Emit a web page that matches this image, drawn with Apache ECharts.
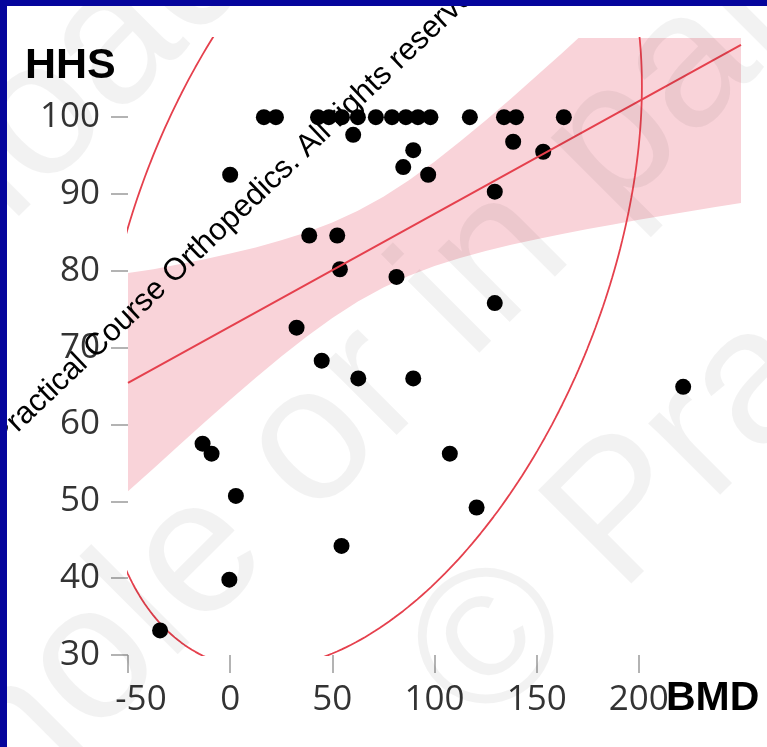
<!DOCTYPE html>
<html>
<head>
<meta charset="utf-8">
<script src="https://cdn.jsdelivr.net/npm/echarts@6/dist/echarts.min.js"></script>
<style>
  html, body { margin: 0; padding: 0; background: #fff; }
  #chart { width: 767px; height: 747px; }
</style>
</head>
<body>
<div id="chart"></div>
<script>
// Change in bone mineral density (BMD) against Harris Hip Score (HHS), one point per patient
const bmd = [
  16.5, 22.4, 43.0, 48.3, 54.7, 62.5, 71.3, 79.2, 86.0, 91.9, 98.0, 117.3, 134.0, 139.9, 163.3,
  0.0, 60.2, 89.6, 84.7, 96.9, 138.5, 153.2, 129.5,
  38.7, 52.4, 53.7, 81.4, 32.5, 44.8, 62.7, 89.6, 129.5, 221.7,
  107.5, 120.6, -13.5, -9.1, 2.8, -0.4, -34.3, 54.5
];
const hhs = [
  100, 100, 100, 100, 100, 100, 100, 100, 100, 100, 100, 100, 100, 100, 100,
  92.5, 97.7, 95.7, 93.5, 92.5, 96.8, 95.5, 90.3,
  84.6, 84.6, 80.2, 79.2, 72.6, 68.3, 66.0, 66.0, 75.8, 64.9,
  56.2, 49.2, 57.5, 56.2, 50.7, 39.8, 33.2, 44.2
];
const xTicks = [-50, 0, 50, 100, 150, 200];
const yTicks = [30, 40, 50, 60, 70, 80, 90, 100];
const xRange = [-50, 250];
const yRange = [30, 110.3];

// Linear fit (end points) and its 95% confidence band
const fitX = [-50, 250];
const fitY = [65.4, 109.4];
const bandX = [
  -50, -37.5, -25, -12.5, 0, 12.5, 25, 37.5, 50, 62.5, 75, 87.5, 100,
  112.5, 125, 137.5, 150, 162.5, 175, 187.5, 200, 212.5, 225, 237.5, 250
];
const bandUpper = [
  79.7, 80.2, 80.84, 81.52, 82.25, 83.05, 83.97, 85.03, 86.29, 87.82, 89.65, 91.8, 94.2,
  96.82, 99.57, 102.43, 105.38, 108.36, 111.4, 114.46, 117.55, 120.64, 123.77, 126.89, 130.03
];
const bandLower = [
  51.3, 54.26, 57.3, 60.28, 63.23, 66.09, 68.85, 71.45, 73.85, 76.0, 77.83, 79.36, 80.62,
  81.68, 82.59, 83.39, 84.12, 84.8, 85.44, 86.04, 86.63, 87.2, 87.75, 88.29, 88.83
];

// Bivariate-normal density ellipse: centre, half extents along each axis, correlation
const ellCentre = [68.5, 82.4];
const ellHalf = [133, 54.2];
const ellRho = 0.40;

const ellipse = [];
for (let k = 0; k <= 360; k++) {
  const th = 2 * Math.PI * k / 360;
  ellipse.push([
    ellCentre[0] + ellHalf[0] * Math.cos(th),
    ellCentre[1] + ellHalf[1] * (ellRho * Math.cos(th) + Math.sqrt(1 - ellRho * ellRho) * Math.sin(th))
  ]);
}

const points = bmd.map((x, i) => [x, hhs[i]]);
const fitLine = fitX.map((x, i) => [x, fitY[i]]);
const upperPts = bandX.map((x, i) => [x, bandUpper[i]]);
const lowerPts = bandX.map((x, i) => [x, bandLower[i]]);

const RED = '#e5404d';
const PINK = '#f9d3d9';
const labelFont = { fontSize: 35, fontFamily: '"Open Sans", "DejaVu Sans", sans-serif', color: '#333' };
const sansFont = '"Liberation Sans", Arial, sans-serif';
const faint = 'rgba(0,0,0,0.05)';

const chart = echarts.init(document.getElementById('chart'), null, { renderer: 'canvas' });
chart.setOption({
  animation: false,
  backgroundColor: '#ffffff',
  grid: { left: 128, top: 38, width: 613, height: 617, containLabel: false },
  xAxis: {
    type: 'value', min: xRange[0], max: xRange[1], interval: 50,
    splitLine: { show: false },
    axisLine: { show: false, onZero: false },
    axisTick: { show: true, length: 18, customValues: xTicks, lineStyle: { color: '#9a9a9a', width: 1.5 } },
    axisLabel: Object.assign({}, labelFont, {
      margin: 28,
      customValues: xTicks,
      formatter: v => (v === -50 ? '{m|-50}' : String(v)),
      rich: { m: Object.assign({}, labelFont, { padding: [0, 0, 0, 26] }) }
    })
  },
  yAxis: {
    type: 'value', min: yRange[0], max: yRange[1], interval: 10,
    splitLine: { show: false },
    axisLine: { show: false, onZero: false },
    axisTick: { show: true, length: 17, customValues: yTicks, lineStyle: { color: '#9a9a9a', width: 1.5 } },
    axisLabel: Object.assign({}, labelFont, { margin: 28, customValues: yTicks })
  },
  series: [
    {
      type: 'custom',
      name: 'band',
      coordinateSystem: 'cartesian2d',
      clip: true,
      silent: true,
      z: 1,
      data: [[fitX[0], fitY[0]]],
      renderItem: (params, api) => {
        const pts = upperPts.map(p => api.coord(p))
          .concat(lowerPts.slice().reverse().map(p => api.coord(p)));
        const cs = params.coordSys;
        return {
          type: 'polygon',
          shape: { points: pts },
          style: { fill: PINK },
          clipPath: { type: 'rect', shape: { x: cs.x, y: cs.y, width: cs.width, height: cs.height } }
        };
      }
    },
    {
      type: 'line', name: 'ellipse', data: ellipse, showSymbol: false, clip: true, z: 2,
      lineStyle: { color: RED, width: 1.8 }, silent: true
    },
    {
      type: 'scatter', name: 'patients', data: points, symbolSize: 16, z: 3,
      itemStyle: { color: '#000', opacity: 1 }
    },
    {
      type: 'line', name: 'fit', data: fitLine, showSymbol: false, clip: true, z: 4,
      lineStyle: { color: RED, width: 2 }, silent: true
    }
  ],
  graphic: [
    { type: 'text', x: 25, y: 66, z: 50,
      style: { text: 'HHS', fontSize: 43, fontWeight: 'bold', fontFamily: sansFont,
               fill: '#000', align: 'left', verticalAlign: 'middle' } },
    { type: 'text', x: 666, y: 699, z: 50,
      style: { text: 'BMD', fontSize: 41, fontWeight: 'bold', fontFamily: sansFont,
               fill: '#000', align: 'left', verticalAlign: 'middle' } },
    // faint diagonal copyright text
    { type: 'text', x: -73, y: 233, rotation: Math.PI / 4, z: 90, silent: true,
      style: { text: 'Download', fontSize: 192, fontFamily: sansFont,
               fill: faint, align: 'center', verticalAlign: 'middle' } },
    { type: 'text', x: 346, y: 411, rotation: Math.PI / 4, z: 90, silent: true,
      style: { text: 'whole or in part', fontSize: 192, fontFamily: sansFont,
               fill: faint, align: 'center', verticalAlign: 'middle' } },
    { type: 'text', x: 445, y: 695, rotation: Math.PI / 4, z: 90, silent: true,
      style: { text: '\u00a9 Practical Course', fontSize: 192, fontFamily: sansFont,
               fill: faint, align: 'left', verticalAlign: 'middle' } },
    // rights notice
    { type: 'text', x: 239, y: 211, rotation: 43.5 * Math.PI / 180, z: 95, silent: true,
      style: { text: 'Practical Course Orthopedics. All rights reserved', fontSize: 31,
               fontFamily: sansFont, fill: '#000', align: 'center', verticalAlign: 'middle' } },
    // frame
    { type: 'rect', shape: { x: 0, y: 0, width: 767, height: 6 }, z: 200, style: { fill: '#05059c' } },
    { type: 'rect', shape: { x: 0, y: 0, width: 7, height: 747 }, z: 200, style: { fill: '#05059c' } }
  ]
});
</script>
</body>
</html>
